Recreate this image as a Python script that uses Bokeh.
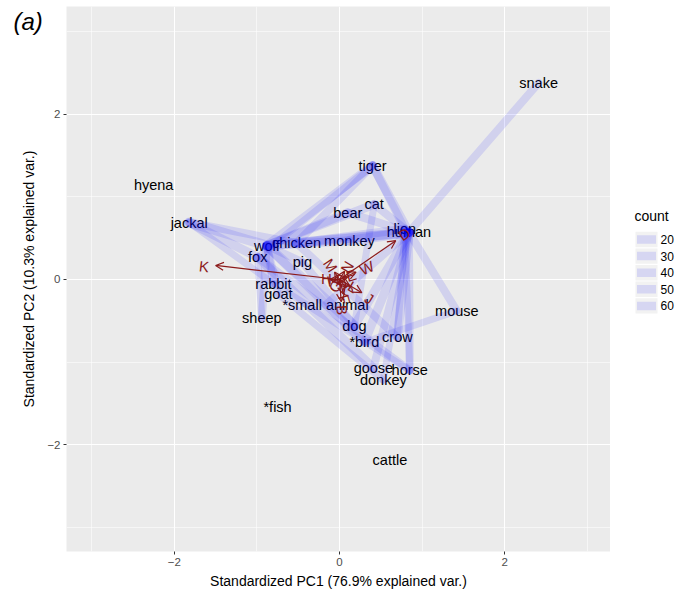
import math
from bokeh.plotting import figure
from bokeh.layouts import row
from bokeh.models import (ColumnDataSource, FixedTicker, Arrow, OpenHead, Range1d)
from bokeh.core.properties import value
from bokeh.embed import file_html
from bokeh.resources import INLINE

# ---------------- data ----------------
animals = ["snake", "hyena", "tiger", "cat", "bear", "jackal", "lion", "human",
           "wolf", "chicken", "monkey", "fox", "pig", "rabbit", "goat",
           "*small animal", "sheep", "mouse", "dog", "crow", "*bird", "goose",
           "horse", "donkey", "*fish", "cattle"]
pc1 = [2.41, -2.25, 0.40, 0.42, 0.10, -1.82, 0.79, 0.84,
       -0.88, -0.52, 0.12, -0.99, -0.45, -0.80, -0.74,
       -0.17, -0.94, 1.42, 0.18, 0.70, 0.30, 0.41,
       0.85, 0.53, -0.75, 0.61]
pc2 = [2.38, 1.15, 1.38, 0.91, 0.81, 0.69, 0.61, 0.57,
       0.41, 0.44, 0.47, 0.27, 0.21, -0.05, -0.18,
       -0.31, -0.47, -0.38, -0.56, -0.70, -0.76, -1.07,
       -1.10, -1.22, -1.54, -2.18]

edge_from = ["snake", "jackal", "jackal", "jackal", "jackal", "tiger", "tiger",
             "tiger", "tiger", "tiger", "bear", "bear", "cat", "cat", "cat",
             "monkey", "monkey", "chicken", "wolf", "wolf", "wolf", "fox",
             "wolf", "wolf", "wolf", "wolf", "fox", "fox", "chicken", "rabbit",
             "goat", "pig", "human", "human", "human", "human", "human",
             "human", "human", "human", "mouse", "lion", "lion", "chicken"]
edge_to = ["human", "wolf", "fox", "chicken", "rabbit", "wolf", "chicken",
           "fox", "human", "lion", "wolf", "human", "wolf", "human", "dog",
           "wolf", "human", "human", "human", "pig", "sheep", "sheep",
           "rabbit", "goat", "dog", "*bird", "goose", "horse", "crow", "horse",
           "donkey", "dog", "dog", "*bird", "crow", "horse", "goose",
           "donkey", "mouse", "*small animal", "*bird", "horse", "crow", "lion"]
edge_count = [30, 50, 40, 30, 20, 40, 30,
              20, 40, 30, 40, 30, 40, 30, 20,
              40, 50, 40, 50, 30, 30, 20,
              30, 30, 50, 40, 40, 30, 30, 20,
              20, 30, 40, 40, 40, 30, 30,
              20, 30, 30, 20, 20, 20, 40]

var_names = ["K", "D", "W", "J", "M", "H", "B", "C", "E", "F", "G", "L", "N", "I"]
var_x = [-1.50, 0.68, 0.20, 0.27, -0.06, -0.12, 0.02, 0.08, 0.10, 0.05, -0.03, 0.12, 0.06, -0.09]
var_y = [0.17, 0.47, 0.09, -0.16, 0.09, 0.00, -0.27, -0.10, 0.03, -0.18, -0.05, -0.07, 0.10, -0.02]
var_label_x = [-1.64, 0.78, 0.33, 0.36, -0.11, -0.16, 0.03, 0.10, 0.14, 0.06, -0.05, 0.16, 0.09, -0.13]
var_label_y = [0.16, 0.55, 0.14, -0.23, 0.17, 0.01, -0.37, -0.13, 0.05, -0.24, -0.08, -0.09, 0.15, -0.02]

x_ticks = [-2, 0, 2]
x_minor = [-3, -1, 1, 3]
x_tick_labels = ["\u22122", "0", "2"]
y_ticks = [-2, 0, 2]
y_minor = [-3, -1, 1, 3]
y_tick_labels = ["\u22122", "0", "2"]
legend_title = "count"
legend_counts = [20, 30, 40, 50, 60]

x_title = "Standardized PC1 (76.9% explained var.)"
y_title = "Standardized PC2 (10.3% explained var.)"
panel_tag = "(a)"

FONT = "Liberation Sans"
X0, X1 = -3.305, 3.28
Y0, Y1 = -3.293, 3.305
FW, FH = 544, 545
TOP, BOTTOM = 6, 42
TAG_W, AX_W, LEG_W = 42, 24, 66


def strip(width):
    # side strip whose frame lines up with the main panel's frame
    f = figure(frame_width=width, frame_height=FH,
               x_range=Range1d(0, width), y_range=Range1d(0, FH),
               x_axis_type=None, y_axis_type=None, output_backend="svg",
               toolbar_location=None, min_border_left=0, min_border_right=0,
               min_border_top=TOP, min_border_bottom=BOTTOM,
               outline_line_color=None,
               background_fill_color="white", border_fill_color="white")
    f.xgrid.visible = False
    f.ygrid.visible = False
    return f


def yp(page_y):
    # page pixel row -> strip data y
    return TOP + FH - page_y


# ---------------- left strip: panel tag + y title ----------------
tag = strip(TAG_W)
tag.text(x=[13], y=[yp(21)], text=[panel_tag], text_font=value(FONT),
         text_font_size="24px", text_font_style="italic", text_color="black",
         text_align="left", text_baseline="middle")
tag.text(x=[28], y=[yp(TOP + FH / 2)], text=[y_title], angle=math.pi / 2,
         text_font=value(FONT), text_font_size="14px", text_color="black",
         text_align="center", text_baseline="middle")

# ---------------- main panel ----------------
p = figure(frame_width=FW, frame_height=FH,
           x_range=Range1d(X0, X1), y_range=Range1d(Y0, Y1),
           output_backend="svg", toolbar_location=None,
           min_border_left=AX_W, min_border_top=TOP, min_border_right=0,
           min_border_bottom=BOTTOM,
           background_fill_color="#ebebeb", border_fill_color="white",
           outline_line_color=None)

for ax, ticks, minor, labels in ((p.xaxis, x_ticks, x_minor, x_tick_labels),
                                 (p.yaxis, y_ticks, y_minor, y_tick_labels)):
    ax.ticker = FixedTicker(ticks=ticks, minor_ticks=minor)
    ax.major_label_overrides = dict(zip(ticks, labels))
    ax.axis_line_color = None
    ax.major_tick_in = 0
    ax.major_tick_out = 3
    ax.major_tick_line_color = "#333333"
    ax.minor_tick_line_color = None
    ax.major_label_text_font = FONT
    ax.major_label_text_font_size = "11.5px"
    ax.major_label_text_color = "#4d4d4d"
    ax.major_label_standoff = 2

p.xaxis.axis_label = x_title
p.xaxis.axis_label_text_font = FONT
p.xaxis.axis_label_text_font_size = "14px"
p.xaxis.axis_label_text_font_style = "normal"
p.xaxis.axis_label_text_color = "black"
p.xaxis.axis_label_standoff = 4
p.yaxis.major_label_orientation = "horizontal"

for g in (p.xgrid, p.ygrid):
    g.grid_line_color = "white"
    g.grid_line_width = 1.1
    g.minor_grid_line_color = "white"
    g.minor_grid_line_width = 0.55

node_src = ColumnDataSource(dict(x=pc1, y=pc2, name=animals))
p.text(x="x", y="y", text="name", source=node_src,
       text_font=value(FONT), text_font_size="14.5px",
       text_align="center", text_baseline="middle", text_color="black")

pos = {a: (x, y) for a, x, y in zip(animals, pc1, pc2)}
edge_src = ColumnDataSource(dict(
    x0=[pos[a][0] for a in edge_from], y0=[pos[a][1] for a in edge_from],
    x1=[pos[b][0] for b in edge_to], y1=[pos[b][1] for b in edge_to],
    w=[5 + c / 10 for c in edge_count]))
p.segment(x0="x0", y0="y0", x1="x1", y1="y1", source=edge_src,
          line_color="blue", line_alpha=0.11, line_width="w", line_cap="round")

arr_src = ColumnDataSource(dict(x0=[0] * len(var_x), y0=[0] * len(var_y),
                                x1=var_x, y1=var_y))
p.add_layout(Arrow(end=OpenHead(size=8, line_color="#8b1a1a", line_width=1.2),
                   x_start="x0", y_start="y0", x_end="x1", y_end="y1",
                   source=arr_src, line_color="#8b1a1a", line_width=1.2))

angles = [math.atan(y / x) if x != 0 else math.pi / 2 for x, y in zip(var_x, var_y)]
var_src = ColumnDataSource(dict(x=var_label_x, y=var_label_y, t=var_names, a=angles))
p.text(x="x", y="y", text="t", angle="a", source=var_src,
       text_font=value(FONT), text_font_size="15px",
       text_align="center", text_baseline="middle", text_color="#8b1a1a")

# ---------------- right strip: legend ----------------
leg = strip(LEG_W)
n = len(legend_counts)
key_y = [yp(239 + 16.6 * i) for i in range(n)]
leg.text(x=[24], y=[yp(215)], text=[legend_title], text_font=value(FONT),
         text_font_size="14px", text_color="black",
         text_align="left", text_baseline="middle")
leg.rect(x=[36] * n, y=key_y, width=22, height=15.4,
         fill_color="#f2f2f2", line_color=None)
leg.rect(x=[36] * n, y=key_y, width=19, height=8.5,
         fill_color="#d6d6f2", line_color=None)
leg.text(x=[50] * n, y=key_y, text=[str(c) for c in legend_counts],
         text_font=value(FONT), text_font_size="12px", text_color="black",
         text_align="left", text_baseline="middle")

layout = row(tag, p, leg, spacing=0)
open("out.html", "w").write(file_html(layout, INLINE))
